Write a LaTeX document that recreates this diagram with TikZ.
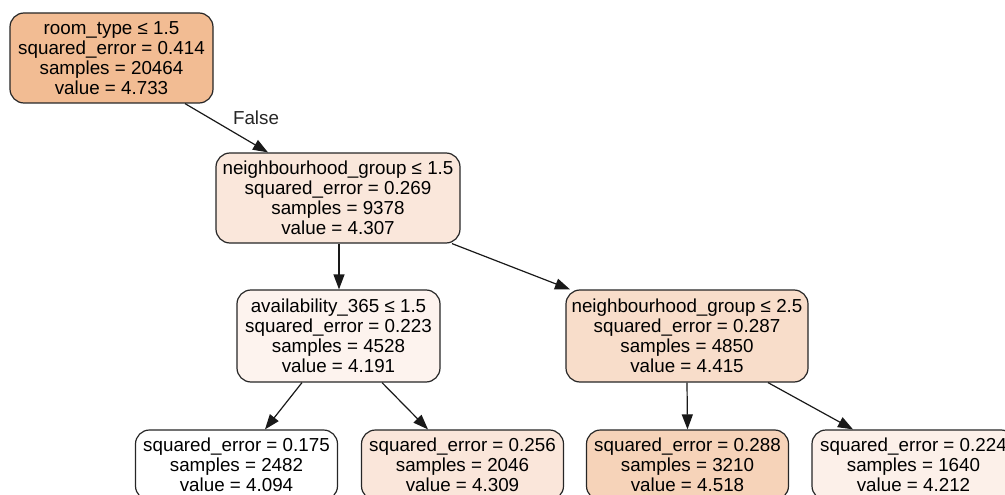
\documentclass[tikz,border=0pt]{standalone}
\usepackage{fontspec}
\setmainfont{Liberation Sans}
\usetikzlibrary{arrows.meta}
\definecolor{croot}{HTML}{F2BC93}
\definecolor{cna}{HTML}{FAE7DB}
\definecolor{cnb}{HTML}{FDF3EE}
\definecolor{cnc}{HTML}{F8DDCA}
\definecolor{cla}{HTML}{FFFFFF}
\definecolor{clb}{HTML}{FAE6DA}
\definecolor{clc}{HTML}{F6D3B9}
\definecolor{cld}{HTML}{FCF0E9}
\begin{document}
\begin{tikzpicture}[x=1pt,y=1pt,
  box/.style={draw=black!85, line width=1.2pt, rounded corners=14pt, align=center,
    font=\fontsize{18.8}{20}\selectfont, inner sep=0pt},
  inner/.style={box, minimum height=90pt},
  leaf/.style={box, minimum width=202pt, minimum height=70pt},
  edge/.style={draw=black!90, line width=1.2pt, -{Triangle[length=15pt,width=11pt]}},
  lbl/.style={font=\fontsize{18.8}{20}\selectfont, text=black!85}]
\useasboundingbox (0,0) rectangle (1005,-495);
\clip (0,0) rectangle (1005,-495);
\node[inner, fill=croot, minimum width=203pt] (root) at (111.5,-58)
  {room\_type ≤ 1.5\\squared\_error = 0.414\\samples = 20464\\value = 4.733};
\node[inner, fill=cna, minimum width=244pt] (n1) at (338,-198)
  {neighbourhood\_group ≤ 1.5\\squared\_error = 0.269\\samples = 9378\\value = 4.307};
\node[inner, fill=cnb, minimum width=203pt, minimum height=92pt] (n2) at (338.5,-336)
  {availability\_365 ≤ 1.5\\squared\_error = 0.223\\samples = 4528\\value = 4.191};
\node[inner, fill=cnc, minimum width=242pt, minimum height=92pt] (n3) at (687,-336)
  {neighbourhood\_group ≤ 2.5\\squared\_error = 0.287\\samples = 4850\\value = 4.415};
\node[leaf, fill=cla] (l1) at (236.5,-465)
  {squared\_error = 0.175\\samples = 2482\\value = 4.094};
\node[leaf, fill=clb] (l2) at (462.5,-465)
  {squared\_error = 0.256\\samples = 2046\\value = 4.309};
\node[leaf, fill=clc] (l3) at (687.5,-465)
  {squared\_error = 0.288\\samples = 3210\\value = 4.518};
\node[leaf, fill=cld, minimum width=203pt] (l4) at (913.5,-465)
  {squared\_error = 0.224\\samples = 1640\\value = 4.212};
\node[lbl] (lf) at (256,-118) {False};
\draw[edge] ([xshift=73.5pt]root.south) -- ([xshift=-70pt]n1.north);
\draw[edge] ([xshift=1pt]n1.south) -- ([xshift=0.5pt]n2.north);
\draw[edge] ([xshift=114pt]n1.south) -- ([xshift=-117pt]n3.north);
\draw[edge] ([xshift=-36.5pt]n2.south) -- ([xshift=28.5pt]l1.north);
\draw[edge] ([xshift=43.5pt]n2.south) -- ([xshift=-34.5pt]l2.north);
\draw[edge] (n3.south) -- (l3.north);
\draw[edge] ([xshift=81pt]n3.south) -- ([xshift=-60.5pt]l4.north);
\end{tikzpicture}
\end{document}
